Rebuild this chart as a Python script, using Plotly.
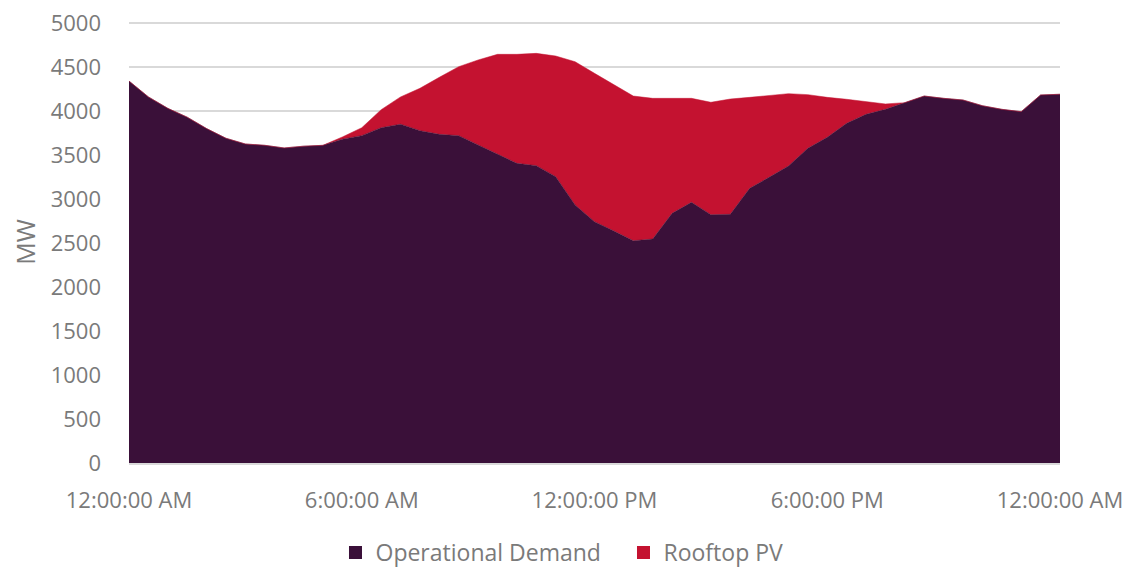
import plotly.graph_objects as go

hours = [i * 0.5 for i in range(49)]

operational_demand = [
    4340, 4160, 4030, 3930, 3800, 3690, 3625, 3610, 3580, 3600,
    3610, 3680, 3720, 3810, 3850, 3776, 3735, 3720, 3614, 3511,
    3405, 3379, 3254, 2932, 2742, 2636, 2526, 2545, 2837, 2962,
    2822, 2826, 3121, 3246, 3375, 3576, 3701, 3860, 3962, 4019,
    4095, 4170, 4144, 4125, 4060, 4019, 3992, 4182, 4190,
]

rooftop_pv = [
    0, 0, 0, 0, 0, 0, 0, 0, 0, 0,
    0, 25, 90, 205, 310, 482, 648, 784, 966, 1133,
    1239, 1276, 1371, 1628, 1686, 1659, 1644, 1599, 1307, 1182,
    1277, 1310, 1034, 928, 822, 610, 454, 273, 144, 61,
    0, 0, 0, 0, 0, 0, 0, 0, 0,
]

series_names = ["Operational Demand", "Rooftop PV"]
x_tick_vals = [0, 6, 12, 18, 24]
x_tick_text = ["12:00:00 AM", "6:00:00 AM", "12:00:00 PM", "6:00:00 PM", "12:00:00 AM"]
y_tick_vals = list(range(0, 5001, 500))

PURPLE = "#3a1039"
RED = "#c41230"
TXT = "#7a7a7a"
FONT = "Open Sans"
colors = [PURPLE, RED]

fig = go.Figure()
for name, vals, col in zip(series_names, [operational_demand, rooftop_pv], colors):
    fig.add_trace(go.Scatter(
        x=hours, y=vals, name=name, stackgroup="one", mode="lines",
        line=dict(width=0.5, color=col), fillcolor=col, showlegend=False,
    ))
# legend entries with square swatches
legend_widths = [243, None]
for name, col, lw in zip(series_names, colors, legend_widths):
    kw = dict(legendwidth=lw) if lw else {}
    fig.add_trace(go.Scatter(
        x=[None], y=[None], name=name, mode="markers",
        marker=dict(symbol="square", size=13, color=col), showlegend=True, **kw,
    ))

fig.update_layout(
    width=1122, height=566,
    margin=dict(l=121, r=70, t=13, b=111, autoexpand=False),
    plot_bgcolor="white", paper_bgcolor="white",
    font=dict(family=FONT, color=TXT, size=22),
    showlegend=True,
    legend=dict(
        orientation="h", x=0.2218, xanchor="left",
        yref="container", y=-0.008, yanchor="bottom",
        font=dict(size=23, color=TXT), traceorder="normal",
        itemwidth=30, tracegroupgap=0, bgcolor="rgba(0,0,0,0)",
    ),
    xaxis=dict(
        range=[0, 24], tickvals=x_tick_vals, ticktext=x_tick_text,
        showgrid=False, zeroline=False, automargin=False,
        showline=True, linecolor="#d9d9d9", linewidth=1.5,
        ticks="", ticklabelstandoff=17, ticklabeloverflow="allow",
        tickfont=dict(size=22, color=TXT, family=FONT),
    ),
    yaxis=dict(
        range=[0, 5022.7], tickvals=y_tick_vals, automargin=False,
        showgrid=True, gridcolor="#d9d9d9", gridwidth=1.5,
        zeroline=False, ticks="", ticklabelstandoff=27, ticklabeloverflow="allow",
        tickfont=dict(size=22, color=TXT, family=FONT),
        title=dict(text="MW", font=dict(size=25, color=TXT, family=FONT), standoff=10),
    ),
)

fig.write_html("out.html")
